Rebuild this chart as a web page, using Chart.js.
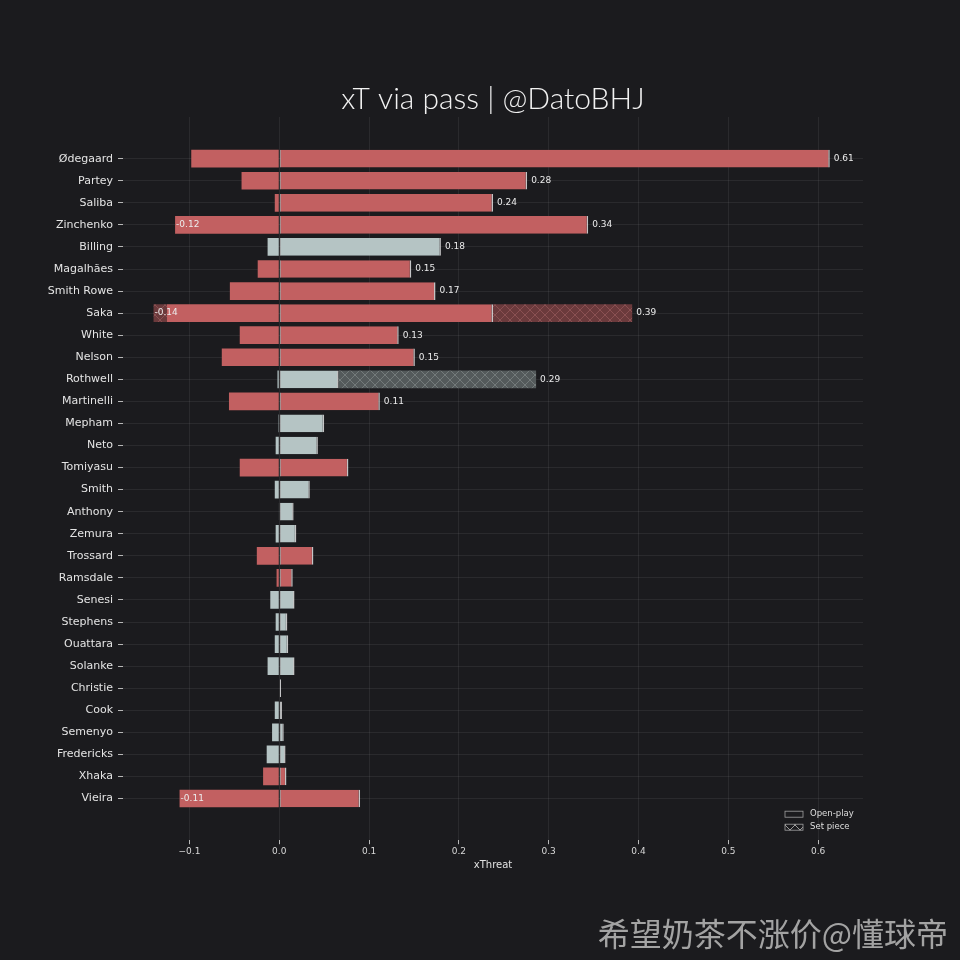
<!DOCTYPE html>
<html>
<head>
<meta charset="utf-8">
<title>xT via pass</title>
<script src="https://cdn.jsdelivr.net/npm/chart.js@4.4.1/dist/chart.umd.min.js"></script>
<style>
    html, body {
        margin: 0;
        padding: 0;
        background: #1b1b1e;
    }
    #wrap {
        position: relative;
        width: 960px;
        height: 960px;
    }
    #mark {
        position: absolute;
        right: 12px;
        top: 916px;
        font: 32px/32px "Noto Sans CJK SC", sans-serif;
        color: #a3a3a3;
        white-space: nowrap;
    }
</style>
</head>
<body>
<div id="wrap">
    <canvas id="chart" width="960" height="960"></canvas>
    <div id="mark">希望奶茶不涨价@懂球帝</div>
</div>
<script>
const players = [
    "Ødegaard", "Partey", "Saliba", "Zinchenko", "Billing", "Magalhães",
    "Smith Rowe", "Saka", "White", "Nelson", "Rothwell", "Martinelli",
    "Mepham", "Neto", "Tomiyasu", "Smith", "Anthony", "Zemura", "Trossard",
    "Ramsdale", "Senesi", "Stephens", "Ouattara", "Solanke", "Christie",
    "Cook", "Semenyo", "Fredericks", "Xhaka", "Vieira",
];
const teams = [
    "ARS", "ARS", "ARS", "ARS", "BOU", "ARS",
    "ARS", "ARS", "ARS", "ARS", "BOU", "ARS",
    "BOU", "BOU", "ARS", "BOU", "BOU", "BOU", "ARS",
    "ARS", "BOU", "BOU", "BOU", "BOU", "BOU",
    "BOU", "BOU", "BOU", "ARS", "ARS",
];
// open-play xT, negative and positive part
const openNeg = [
    -0.098, -0.042, -0.005, -0.116, -0.013, -0.024,
    -0.055, -0.125, -0.044, -0.064, -0.002, -0.056,
    -0.001, -0.004, -0.044, -0.005, -0.0005, -0.004, -0.025,
    -0.003, -0.010, -0.004, -0.005, -0.013, 0,
    -0.005, -0.008, -0.014, -0.018, -0.111,
];
const openPos = [
    0.613, 0.276, 0.238, 0.344, 0.180, 0.147,
    0.174, 0.238, 0.133, 0.151, 0.066, 0.112,
    0.050, 0.043, 0.077, 0.034, 0.016, 0.019, 0.038,
    0.015, 0.017, 0.009, 0.010, 0.017, 0.002,
    0.003, 0.005, 0.007, 0.008, 0.090,
];
// extra xT from set pieces
const setNeg = [
    0, 0, 0, 0, 0, 0,
    0, -0.015, 0, 0, 0, 0,
    0, 0, 0, 0, 0, 0, 0,
    0, 0, 0, 0, 0, 0,
    0, 0, 0, 0, 0,
];
const setPos = [
    0, 0, 0, 0, 0, 0,
    0, 0.155, 0, 0, 0.220, 0,
    0, 0, 0, 0, 0, 0, 0,
    0, 0, 0, 0, 0, 0,
    0, 0, 0, 0, 0,
];
const xTicks = [-0.1, 0.0, 0.1, 0.2, 0.3, 0.4, 0.5, 0.6];

const colors = {
    ARS: "#c26061",
    BOU: "#b5c4c4",
};

function hatch(bg, line) {
    const c = document.createElement("canvas");
    c.width = 10;
    c.height = 10;
    const g = c.getContext("2d");
    if (bg) {
        g.fillStyle = bg;
        g.fillRect(0, 0, 10, 10);
    }
    g.strokeStyle = line;
    g.lineWidth = 1;
    g.beginPath();
    g.moveTo(0, 0);
    g.lineTo(10, 10);
    g.moveTo(10, 0);
    g.lineTo(0, 10);
    g.stroke();
    return g.createPattern(c, "repeat");
}

const hatches = {
    ARS: hatch("#6b3a3c", "#8a5052"),
    BOU: hatch("#545a5b", "#737a7a"),
};

function rows(fn) {
    return players.map((p, i) => fn(i)).filter((d) => d !== null);
}

const labelPlugin = {
    id: "barLabels",
    afterDatasetsDraw(chart) {
        const ctx = chart.ctx;
        const xs = chart.scales.x;
        const ys = chart.scales.y;
        ctx.save();
        ctx.font = "9px 'DejaVu Sans'";
        ctx.fillStyle = "#ececec";
        ctx.textBaseline = "middle";
        ctx.textAlign = "left";
        players.forEach((p, i) => {
            const hi = openPos[i] + setPos[i];
            const lo = openNeg[i] + setNeg[i];
            const y = ys.getPixelForValue(i);
            if (hi > 0.1) {
                ctx.fillText(hi.toFixed(2), xs.getPixelForValue(hi) + 4, y);
            }
            if (lo < -0.1) {
                ctx.fillText(lo.toFixed(2), xs.getPixelForValue(lo) + 1, y);
            }
        });
        ctx.restore();
    },
};

const legendPlugin = {
    id: "cornerLegend",
    afterDraw(chart) {
        const ctx = chart.ctx;
        const area = chart.chartArea;
        const x = area.right - 78;
        const items = [
            { text: "Open-play", fill: null, y: area.bottom - 26 },
            { text: "Set piece", fill: hatch(null, "#9a9a9a"), y: area.bottom - 13 },
        ];
        ctx.save();
        ctx.font = "8.5px 'DejaVu Sans'";
        ctx.textBaseline = "middle";
        items.forEach((item) => {
            if (item.fill) {
                ctx.fillStyle = item.fill;
                ctx.fillRect(x, item.y - 3, 18, 6);
            }
            ctx.strokeStyle = "#a0a0a0";
            ctx.lineWidth = 0.8;
            ctx.strokeRect(x, item.y - 3, 18, 6);
            ctx.fillStyle = "#dedede";
            ctx.fillText(item.text, x + 25, item.y);
        });
        ctx.restore();
    },
};

const barCommon = {
    grouped: false,
    categoryPercentage: 1.0,
    barPercentage: 0.8,
    borderSkipped: false,
};

const chartData = {
    datasets: [
        {
            ...barCommon,
            label: "Open-play +",
            data: rows((i) => ({ x: [0, openPos[i]], y: i })),
            backgroundColor: teams.map((t) => colors[t]),
            borderColor: "rgba(240,240,240,0.8)",
            borderWidth: { left: 1, right: 1.5, top: 0, bottom: 0 },
        },
        {
            ...barCommon,
            label: "Open-play -",
            data: rows((i) => ({ x: [openNeg[i], 0], y: i })),
            backgroundColor: teams.map((t) => colors[t]),
            borderWidth: 0,
        },
        {
            ...barCommon,
            label: "Set piece +",
            data: rows((i) => setPos[i] ? { x: [openPos[i], openPos[i] + setPos[i]], y: i } : null),
            backgroundColor: rows((i) => setPos[i] ? hatches[teams[i]] : null),
            borderWidth: 0,
        },
        {
            ...barCommon,
            label: "Set piece -",
            data: rows((i) => setNeg[i] ? { x: [openNeg[i] + setNeg[i], openNeg[i]], y: i } : null),
            backgroundColor: rows((i) => setNeg[i] ? hatches[teams[i]] : null),
            borderWidth: 0,
        },
    ],
};

const gridColor = "rgba(255,255,255,0.065)";

new Chart(document.getElementById("chart"), {
    type: "bar",
    data: chartData,
    plugins: [labelPlugin, legendPlugin],
    options: {
        indexAxis: "y",
        responsive: false,
        animation: false,
        devicePixelRatio: 1,
        layout: {
            padding: { top: 0, left: 0, right: 97, bottom: 89 },
        },
        scales: {
            x: {
                type: "linear",
                position: "bottom",
                min: -0.174,
                max: 0.650,
                afterBuildTicks: (axis) => {
                    axis.ticks = xTicks.map((v) => ({ value: v }));
                },
                ticks: {
                    callback: (v) => v.toFixed(1).replace("-", "\u2212"),
                    color: "#d8d8d8",
                    font: { family: "DejaVu Sans", size: 9 },
                    padding: 2,
                    maxRotation: 0,
                },
                grid: {
                    color: gridColor,
                    tickColor: "#b8b8b8",
                    tickLength: 4,
                },
                border: { display: false },
                title: {
                    display: true,
                    text: "xThreat",
                    color: "#e2e2e2",
                    font: { family: "DejaVu Sans", size: 10 },
                    padding: { top: 0, bottom: 0 },
                },
            },
            y: {
                type: "linear",
                reverse: true,
                offset: false,
                min: -1.89,
                max: 30.89,
                afterBuildTicks: (axis) => {
                    axis.ticks = players.map((p, i) => ({ value: i }));
                },
                afterFit: (axis) => {
                    axis.width = 123;
                },
                ticks: {
                    callback: (v) => players[v],
                    autoSkip: false,
                    color: "#e4e4e4",
                    font: { family: "DejaVu Sans", size: 11 },
                    padding: 5,
                },
                grid: {
                    offset: false,
                    color: gridColor,
                    tickColor: "#b8b8b8",
                    tickLength: 5,
                },
                border: { display: false },
            },
        },
        plugins: {
            legend: { display: false },
            tooltip: { enabled: false },
            title: {
                display: true,
                fullSize: false,
                text: "xT via pass | @DatoBHJ",
                color: "#f2f2f2",
                font: { family: "Lato", size: 30, weight: "300" },
                padding: { top: 81, bottom: 0 },
            },
        },
    },
});
</script>
</body>
</html>
